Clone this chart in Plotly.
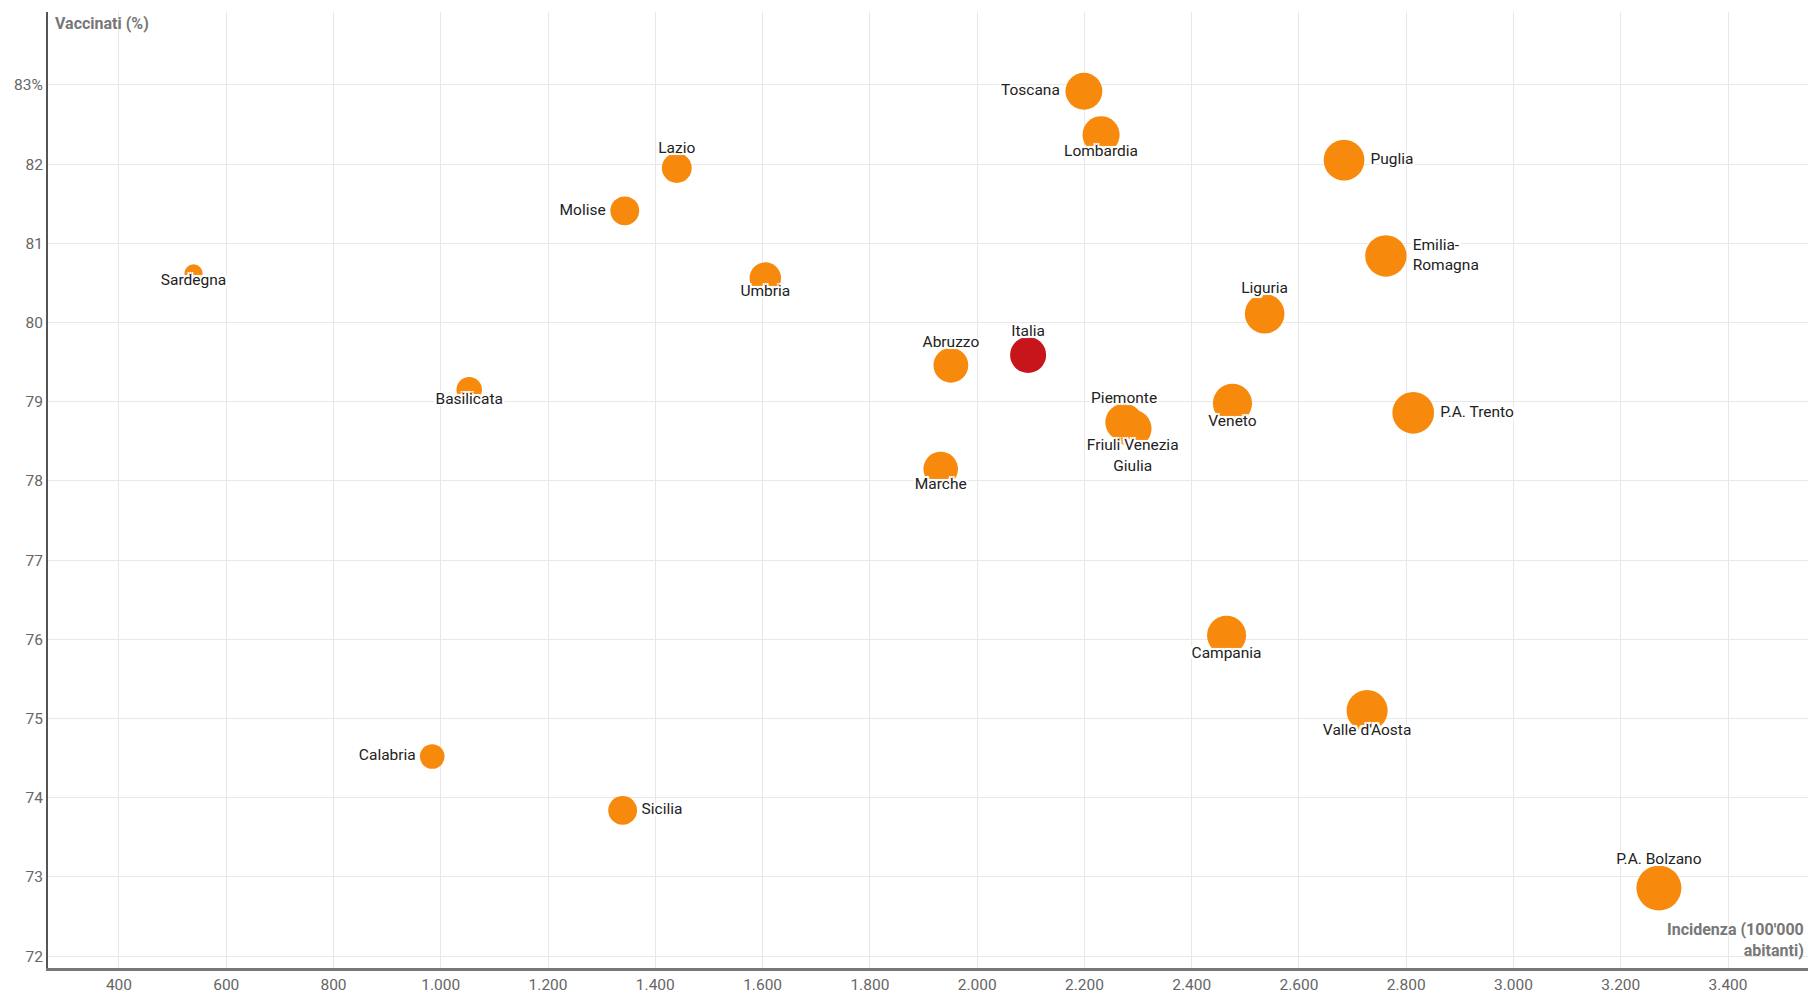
import math
import plotly.graph_objects as go

regions = ["Toscana", "Lombardia", "Puglia", "Lazio", "Molise", "Emilia-<br>Romagna",
           "Sardegna", "Umbria", "Liguria", "Abruzzo", "Basilicata", "Veneto",
           "P.A. Trento", "Piemonte", "Friuli Venezia<br>Giulia", "Marche", "Campania",
           "Valle d'Aosta", "Calabria", "Sicilia", "P.A. Bolzano"]
incidenza = [2199, 2231, 2684, 1440, 1343, 2762,
             539, 1605, 2536, 1951, 1053, 2476,
             2813, 2274, 2290, 1932, 2465,
             2727, 984, 1339, 3271]
vaccinati = [82.92, 82.37, 82.05, 81.95, 81.41, 80.84,
             80.62, 80.56, 80.11, 79.46, 79.15, 78.98,
             78.86, 78.74, 78.66, 78.15, 76.05,
             75.10, 74.52, 73.84, 72.86]
label_pos = ["middle left", "bottom center", "middle right", "top center", "middle left", "middle right",
             "bottom center", "bottom center", "top center", "top center", "bottom center", "bottom center",
             "middle right", "top center", "bottom center", "bottom center", "bottom center",
             "bottom center", "middle left", "middle right", "top center"]

italia_name = ["Italia"]
italia_inc = [2095]
italia_vac = [79.59]

x_tickvals = [400, 600, 800, 1000, 1200, 1400, 1600, 1800, 2000, 2200, 2400, 2600, 2800, 3000, 3200, 3400]
x_ticktext = ["400", "600", "800", "1.000", "1.200", "1.400", "1.600", "1.800", "2.000", "2.200",
              "2.400", "2.600", "2.800", "3.000", "3.200", "3.400"]
y_tickvals = [72, 73, 74, 75, 76, 77, 78, 79, 80, 81, 82, 83]
y_ticktext = ["72", "73", "74", "75", "76", "77", "78", "79", "80", "81", "82", "83%"]

ORANGE = "#f78a0c"
RED = "#c8141b"
FONT = "Roboto"
halo = ("-2px -2px 0 #fff, 2px -2px 0 #fff, -2px 2px 0 #fff, 2px 2px 0 #fff, "
        "0 -2px 0 #fff, 0 2px 0 #fff, -2px 0 0 #fff, 2px 0 0 #fff, 0 0 4px #fff")

# bubble diameter (px) proportional to sqrt(incidenza), i.e. area ~ incidenza
K = 45 / math.sqrt(max(incidenza))
def diam(v):
    return K * math.sqrt(v)

def label_anchor(v, pos):
    d = diam(v)
    if pos.startswith("bottom"):
        return max(d - 23, 0)
    if pos.startswith("top"):
        return max(d - 14, 0)
    return d

sizes = [diam(v) for v in incidenza]
label_sizes = [label_anchor(v, p) for v, p in zip(incidenza, label_pos)]

fig = go.Figure()
fig.add_trace(go.Scatter(
    x=incidenza, y=vaccinati, mode="markers", text=regions,
    marker=dict(size=sizes, color=ORANGE, opacity=1, line=dict(width=0)),
    hoverinfo="text+x+y", showlegend=False, cliponaxis=False,
))
fig.add_trace(go.Scatter(
    x=italia_inc, y=italia_vac, mode="markers", text=italia_name,
    marker=dict(size=[diam(v) for v in italia_inc], color=RED, opacity=1, line=dict(width=0)),
    hoverinfo="text+x+y", showlegend=False, cliponaxis=False,
))
# labels
fig.add_trace(go.Scatter(
    x=incidenza + italia_inc, y=vaccinati + italia_vac, mode="markers+text",
    text=regions + italia_name,
    textposition=label_pos + ["top center"],
    textfont=dict(family=FONT, size=15.5, color="#222", shadow=halo),
    marker=dict(size=label_sizes + [label_anchor(italia_inc[0], "top")], opacity=0),
    hoverinfo="skip", showlegend=False, cliponaxis=False,
))

fig.update_layout(
    width=1808, height=994,
    margin=dict(l=48, r=0, t=12, b=26),
    paper_bgcolor="white", plot_bgcolor="white",
    font=dict(family=FONT, size=15.5, color="#666"),
    xaxis=dict(range=[267.7, 3549], tickvals=x_tickvals, ticktext=x_ticktext,
               showgrid=True, gridcolor="#e8e8e8", gridwidth=1, zeroline=False,
               showline=True, linecolor="#777", linewidth=3,
               ticks="", tickfont=dict(family=FONT, size=15.5, color="#666")),
    yaxis=dict(range=[71.85, 83.92], tickvals=y_tickvals, ticktext=y_ticktext,
               showgrid=True, gridcolor="#e8e8e8", gridwidth=1, zeroline=False,
               showline=True, linecolor="#555", linewidth=2,
               ticks="", tickfont=dict(family=FONT, size=15.5, color="#666")),
    annotations=[
        dict(text="<b>Vaccinati (%)</b>", xref="paper", yref="paper", x=0.003, y=1.0,
             xanchor="left", yanchor="top", showarrow=False,
             font=dict(family=FONT, size=16, color="#777")),
        dict(text="<b>Incidenza (100'000<br>abitanti)</b>", xref="paper", yref="paper",
             x=0.999, y=0.006, xanchor="right", yanchor="bottom", align="right",
             showarrow=False, font=dict(family=FONT, size=16, color="#777")),
    ],
)

fig.write_html("out.html", config={"displayModeBar": False},
               post_script="document.body.style.margin='0';document.body.style.overflow='hidden';")
